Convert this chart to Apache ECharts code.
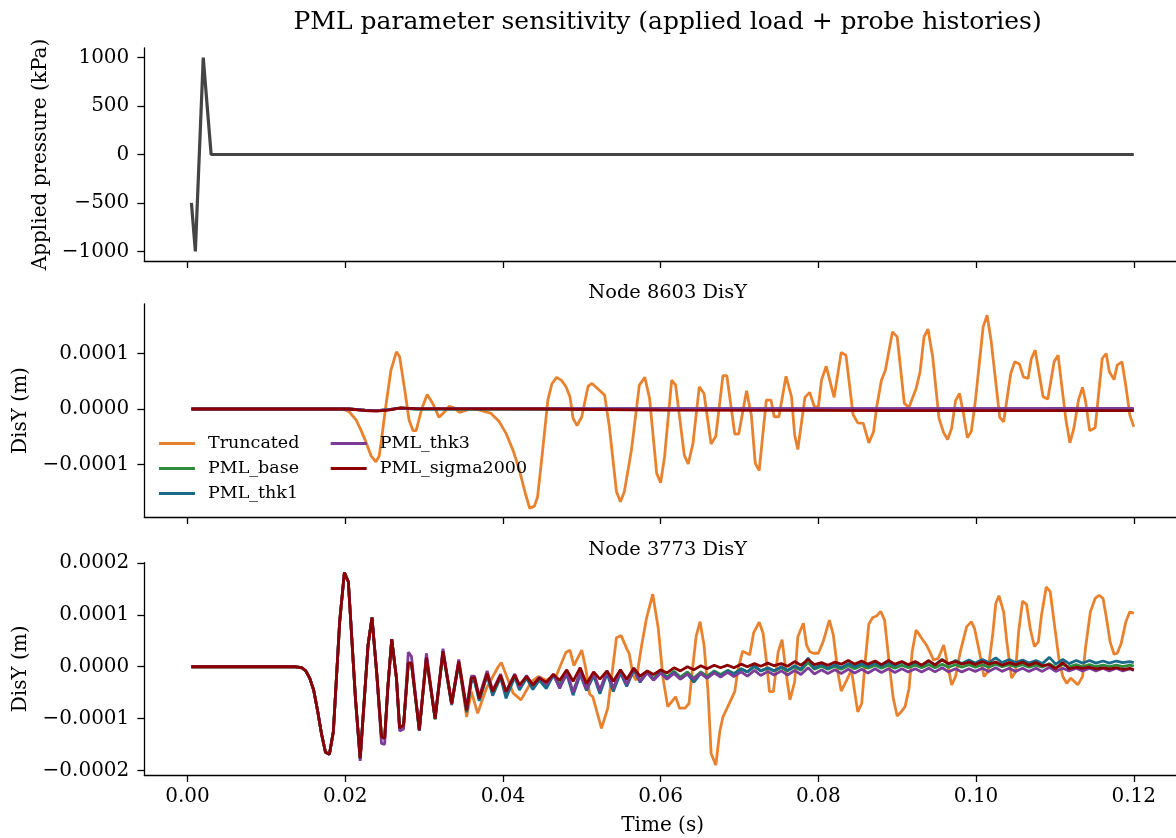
<!DOCTYPE html>
<html><head><meta charset="utf-8">
<script src="https://cdn.jsdelivr.net/npm/echarts@6/dist/echarts.min.js"></script>
<style>html,body{margin:0;padding:0;background:#fff}#chart{width:1176px;height:838px}</style>
</head><body><div id="chart"></div>
<script>
// ---- Tick values / labels (time in ms, displacement in micrometres) ----
const xTickValues = [0, 20, 40, 60, 80, 100, 120];
const xTickLabels = ['0.00', '0.02', '0.04', '0.06', '0.08', '0.10', '0.12'];
const presTickValues = [-1000, -500, 0, 500, 1000];
const presTickLabels = ['\u22121000', '\u2212500', '0', '500', '1000'];
const midTickValues = [-100, 0, 100];
const midTickLabels = ['\u22120.0001', '0.0000', '0.0001'];
const botTickValues = [-200, -100, 0, 100, 200];
const botTickLabels = ['\u22120.0002', '\u22120.0001', '0.0000', '0.0001', '0.0002'];

const seriesNames = ['Truncated', 'PML_base', 'PML_thk1', 'PML_thk3', 'PML_sigma2000'];

// ---- Applied load: [time ms, kPa] ----
const pressure = [[0.5, -500], [1.0, -1000], [2.0, 1000], [3.0, 0], [120, 0]];

// ---- Node 8603 DisY: [time ms, micrometres] ----
const truncMid = [[0.5,0],[19.7,0],[20.5,-5],[21.4,-20],[22.0,-38],[22.7,-62],[23.3,-85],[23.9,-95],[24.3,-85],[24.6,-56],[25.1,0],[25.8,70],[26.5,103],[26.9,94],[27.6,30],[28.1,-20],[28.6,-39],[29.0,-39],[29.7,0],[30.4,26],[31.1,10],[31.9,-15],[32.6,-5],[33.2,5],[33.8,2],[34.5,-6],[35.2,-3],[35.8,1],[37.1,-2],[38.5,-8],[39.5,-22],[40.4,-44],[41.3,-75],[42.1,-110],[42.8,-150],[43.4,-179],[44.0,-175],[44.4,-158],[45.0,-80],[45.7,16],[46.2,45],[46.8,57],[47.4,52],[48.0,40],[48.5,22],[48.9,-17],[49.4,-30],[50.0,-14],[50.8,41],[51.3,46],[52.0,37],[52.9,25],[53.5,-32],[54.4,-149],[54.9,-167],[55.4,-149],[56.3,-74],[57.3,43],[58.0,57],[58.6,19],[59.5,-116],[60.0,-133],[60.5,-86],[61.4,52],[61.9,43],[63.0,-83],[63.5,-99],[64.1,-62],[64.9,40],[65.5,28],[66.4,-63],[67.0,-49],[67.9,60],[68.4,60],[69.4,-45],[69.9,-45],[70.9,33],[71.5,-11],[72.0,-98],[72.5,-111],[73.4,16],[74.0,16],[74.4,-14],[75.0,-14],[75.9,59],[76.6,22],[77.0,-47],[77.4,-73],[78.3,21],[78.9,30],[79.5,4],[80.0,4],[80.4,52],[81.0,77],[82.0,21],[82.9,102],[83.5,97],[84.4,-10],[85.0,-25],[85.7,-26],[86.4,-61],[87.0,-41],[87.4,4],[88.0,52],[88.5,70],[89.4,139],[90.0,130],[90.9,10],[91.5,3],[92.4,37],[92.9,67],[93.4,130],[93.9,144],[94.5,94],[95.3,-17],[95.9,-43],[96.4,-55],[96.9,-35],[97.4,15],[97.9,28],[98.4,-8],[98.9,-52],[99.4,-40],[99.9,13],[100.9,148],[101.4,169],[101.9,124],[103.0,-15],[103.5,-23],[104.4,64],[104.9,85],[105.5,81],[106.0,58],[106.6,55],[107.0,90],[107.5,106],[108.5,22],[109.1,18],[109.9,85],[110.4,97],[111.4,-20],[111.9,-61],[112.4,-35],[113.0,17],[113.5,39],[113.9,13],[114.4,-39],[115.1,-34],[116.0,91],[116.5,100],[116.9,67],[117.5,53],[117.9,79],[118.5,85],[119.0,41],[119.5,-11],[120.0,-32]];
const baseMid = [[0.5,0],[20.5,0],[22.5,-2],[24.0,-3],[25.5,-1],[27.0,1.5],[29.0,0],[45.0,0],[120.0,-1]];
const thk1Mid = [[0.5,0],[20.5,0],[22.5,-2],[24.0,-3],[25.5,-1],[27.0,1.5],[29.0,0],[45.0,0],[120.0,-0.5]];
const thk3Mid = [[0.5,0],[20.5,0],[22.5,-2],[24.0,-3],[25.5,-1],[27.0,1.5],[29.0,0.5],[45.0,0.5],[120.0,1]];
const sigmaMid = [[0.5,0],[20.5,0],[22.5,-3],[24.0,-4],[25.5,-2],[27.0,2],[29.0,0.5],[45.0,0],[60.0,-2],[90.0,-3],[120.0,-3]];

// ---- Node 3773 DisY ----
const truncBot = [[0.5,0],[13.5,0],[14.5,-2],[15.0,-8],[15.5,-22],[16.0,-45],[16.5,-85],[17.0,-130],[17.5,-165],[18.0,-169],[18.5,-125],[19.3,87],[19.9,182],[20.4,164],[21.3,-61],[21.9,-177],[22.9,42],[23.4,95],[24.0,-13],[24.6,-135],[25.0,-138],[25.4,-42],[25.9,53],[26.5,-22],[26.9,-118],[27.4,-113],[28.0,7],[28.4,7],[29.4,-122],[30.3,18],[31.4,-100],[32.4,30],[33.5,-71],[34.4,10],[35.4,-97],[36.0,-48],[36.8,-90],[37.9,-42],[39.4,0],[39.8,8],[41.3,-51],[42.3,-64],[43.6,-29],[44.5,-19],[45.5,-26],[46.8,-16],[48.0,28],[48.5,32],[49.0,2],[50.0,32],[50.5,-3],[51.0,-53],[51.4,-58],[52.5,-119],[53.3,-80],[54.4,56],[55.0,60],[55.7,35],[56.0,26],[56.5,-16],[56.9,-26],[57.6,42],[58.2,93],[59.0,140],[59.7,74],[60.3,-22],[60.9,-77],[61.9,-58],[62.4,-80],[63.1,-80],[63.6,-71],[64.0,-10],[64.5,58],[65.0,87],[65.5,42],[66.0,-45],[66.4,-167],[67.0,-190],[67.5,-125],[67.9,-97],[68.8,-68],[69.4,-48],[69.8,-6],[70.4,30],[71.3,23],[71.8,66],[72.5,86],[73.0,64],[73.4,13],[73.8,-48],[74.3,-48],[74.9,28],[75.4,52],[76.0,-22],[76.4,-64],[77.0,-29],[77.4,58],[78.1,84],[78.5,42],[78.9,29],[79.4,26],[80.0,26],[80.6,48],[81.4,90],[81.9,61],[82.5,-13],[82.9,-47],[83.6,-26],[84.2,-6],[84.6,-48],[85.0,-87],[85.5,-71],[85.9,3],[86.4,82],[86.9,95],[87.4,98],[87.9,107],[88.4,90],[89.1,-10],[89.5,-61],[90.0,-95],[90.5,-87],[91.0,-77],[91.5,-42],[91.9,29],[92.4,71],[93.1,55],[93.7,42],[94.1,30],[94.6,13],[95.2,16],[95.9,42],[96.9,-35],[97.4,-19],[98.0,29],[98.8,77],[99.4,87],[99.8,74],[100.5,23],[101.0,-19],[101.5,-10],[102.1,61],[102.5,122],[102.9,137],[103.5,106],[103.9,48],[104.5,-22],[105.0,-10],[105.4,68],[105.9,127],[106.4,120],[106.9,71],[107.4,39],[107.9,48],[108.3,100],[108.9,154],[109.4,145],[110.0,74],[110.5,16],[111.0,-19],[111.5,-32],[112.0,-22],[112.5,-29],[112.9,-35],[113.5,-19],[113.9,39],[114.5,106],[115.1,132],[115.6,138],[116.1,132],[116.5,97],[117.0,48],[117.5,24],[117.9,26],[118.4,45],[119.0,87],[119.5,106],[120.0,103]];

// shared sample times (ms) of the four PML histories at node 3773
const tPmlBot = [
  0.5, 13.5, 14.5, 15.0, 15.5, 16.0, 16.5, 17.0, 17.5, 18.0,
  18.5, 19.3, 19.9, 20.4, 21.3, 21.9, 22.9, 23.4, 24.0, 24.6,
  25.0, 25.4, 25.9, 26.5, 26.9, 27.4, 28.0, 28.4, 29.4, 30.3,
  31.4, 32.4, 33.5, 34.4, 35.4, 36.0, 36.4, 37.0, 38.0, 38.7,
  39.7, 40.4, 41.5, 42.1, 43.0, 43.8, 44.6, 45.5, 46.4,
  47.2, 48.1, 48.9, 49.8, 50.6, 51.5, 52.3, 53.2, 54.0, 54.9,
  55.7, 56.6, 57.4, 58.3, 59.1, 60.0, 60.8, 61.7, 62.5, 63.4,
  64.2, 65.1, 65.9, 66.8, 67.6, 68.5, 69.3, 70.2, 71.0, 71.9,
  72.7, 73.6, 74.4, 75.3, 76.1, 77.0, 77.8, 78.7, 79.5, 80.4,
  81.2, 82.1, 82.9, 83.8, 84.6, 85.5, 86.3, 87.2, 88.0, 88.9,
  89.7, 90.6, 91.4, 92.3, 93.1, 94.0, 94.8, 95.7, 96.5, 97.4,
  98.2, 99.1, 99.9, 100.8, 101.6, 102.5, 103.3, 104.2, 105.0, 105.9,
  106.7, 107.6, 108.4, 109.3, 110.1, 111.0, 111.8, 112.7, 113.5, 114.4,
  115.2, 116.1, 116.9, 117.8, 118.6, 119.5, 120.0];
const baseBot = [
  0, 0, -2, -8, -22, -45, -85, -130, -165, -169,
  -125, 87, 182, 164, -61, -177, 42, 95, -13, -135,
  -138, -42, 53, -22, -118, -113, 7, 7, -124, 16,
  -102, 28, -73, 8, -86, -25, -25, -64, -15, -52,
  -18, -55, -18, -40, -20, -40, -24, -38, -15,
  -34, -12, -48, -12, -42, -14, -46, -10, -42, -10,
  -34, -5, -26, -9, -23, -9, -20, -9, -20, -10,
  -22, -10, -18, -8, -15, -7, -13, -4, -10, 0,
  -8, -3, -8, -2, -8, 0, -7, 8, -5, 1,
  -5, 1, -5, 2, -4, 2, -3, 3, -3, 3,
  -3, 3, -2, 3, -2, 4, -2, 5, -1, 4,
  -1, 4, -1, 4, -1, 5, 0, 4, 0, 4,
  -1, 3, -1, 6, -1, 4, 0, 4, 0, 4,
  0, 3, 0, 3, 0, 3, 1];
const thk1Bot = [
  0, 0, -2, -8, -22, -45, -85, -130, -165, -169,
  -125, 87, 182, 164, -61, -177, 42, 95, -13, -135,
  -138, -42, 53, -22, -118, -113, 7, 7, -122, 18,
  -100, 28, -74, 6, -88, -28, -28, -66, -16, -56,
  -20, -61, -20, -45, -22, -44, -26, -42, -16,
  -40, -14, -55, -15, -46, -17, -52, -13, -48, -12,
  -38, -6, -30, -10, -26, -10, -22, -11, -24, -14,
  -30, -13, -22, -10, -18, -8, -14, -4, -10, 2,
  -8, -2, -8, 0, -7, 2, -5, 17, -3, 5,
  -3, 4, -2, 6, 0, 6, 1, 7, 1, 8,
  2, 9, 3, 8, 3, 10, 4, 14, 5, 12,
  6, 13, 7, 14, 8, 17, 8, 14, 8, 13,
  7, 12, 6, 18, 5, 14, 6, 12, 7, 12,
  7, 11, 7, 11, 8, 10, 8];
const thk3Bot = [
  0, 0, -2, -8, -22, -45, -85, -130, -165, -169,
  -125, 87, 182, 164, -61, -182, 42, 95, -13, -148,
  -150, -42, 53, -22, -124, -120, 28, 20, -124, 26,
  -100, 35, -72, 14, -80, -18, -18, -58, -8, -46,
  -14, -48, -14, -38, -17, -36, -20, -34, -14,
  -42, -10, -50, -10, -44, -12, -46, -8, -42, -6,
  -34, -2, -28, -12, -26, -12, -24, -13, -24, -14,
  -24, -13, -22, -12, -20, -11, -19, -10, -18, -7,
  -17, -9, -16, -8, -16, -7, -15, -2, -14, -6,
  -13, -6, -13, -5, -12, -5, -12, -4, -11, -4,
  -11, -4, -10, -4, -10, -3, -10, -2, -10, -4,
  -10, -4, -9, -3, -9, -2, -9, -3, -9, -3,
  -9, -3, -9, -1, -9, -3, -8, -3, -8, -3,
  -8, -3, -8, -3, -8, -4, -7];
const sigmaBot = [
  0, 0, -2, -8, -22, -45, -85, -130, -165, -169,
  -125, 87, 182, 164, -61, -177, 42, 95, -13, -135,
  -138, -42, 53, -22, -118, -113, 7, 7, -122, 18,
  -100, 30, -71, 10, -84, -22, -21, -61, -13, -48,
  -17, -48, -16, -35, -19, -35, -22, -30, -15,
  -26, -6, -28, -2, -33, -10, -24, -8, -28, -6,
  -24, -3, -18, -8, -15, -6, -12, -2, -8, 0,
  -6, 2, -4, 3, -2, 3, -2, 5, 0, 6,
  1, 7, 2, 6, 1, 10, 3, 14, 4, 8,
  3, 9, 5, 12, 5, 11, 5, 11, 4, 12,
  5, 10, 4, 10, 3, 12, 3, 13, 6, 10,
  5, 9, 4, 10, 5, 9, 3, 8, 4, 9,
  3, 8, 2, 4, -4, 8, -4, -1, -3, -1,
  -4, -2, -4, -2, -5, -3, -6];

const colors = { Truncated: '#e8822e', PML_base: '#2e8b3e', PML_thk1: '#1a6a8a', PML_thk3: '#7d3c98', PML_sigma2000: '#8b0000' };

// ---- build ----
const FONT = 'DejaVu Serif';
const TICK_FS = 20;
const X_MIN = -5.475, X_MAX = 125.975;
const GL = 144.3, GW = 1036.6;
const grids = [
  { left: GL, width: GW, top: 48, height: 213 },
  { left: GL, width: GW, top: 304, height: 213 },
  { left: GL, width: GW, top: 562.7, height: 212.3 }
];
const yRanges = [[-1100, 1100], [-194.6, 189.2], [-209, 200.8]];
const yTicks = [[presTickValues, presTickLabels], [midTickValues, midTickLabels], [botTickValues, botTickLabels]];
const yNames = ['Applied pressure (kPa)', 'DisY (m)', 'DisY (m)'];
const yNameGaps = [93, 114, 114];

function lookup(vals, labels) {
  return function (v) {
    for (let i = 0; i < vals.length; i++) if (Math.abs(vals[i] - v) < 1e-6) return labels[i];
    return '';
  };
}
const lineCol = '#000';
const xAxes = grids.map((g, i) => ({
  type: 'value', gridIndex: i, min: X_MIN, max: X_MAX,
  axisLine: { show: true, onZero: false, lineStyle: { color: lineCol, width: 1.3 } },
  axisTick: { show: true, length: 7, customValues: xTickValues, lineStyle: { color: lineCol, width: 1.3 } },
  axisLabel: { show: i === 2, customValues: xTickValues, formatter: lookup(xTickValues, xTickLabels),
    fontFamily: FONT, fontSize: TICK_FS, color: '#000', margin: 12 },
  splitLine: { show: false },
  name: i === 2 ? 'Time (s)' : '', nameLocation: 'middle', nameGap: 41,
  nameTextStyle: { fontFamily: FONT, fontSize: TICK_FS, color: '#000' }
}));
const yAxes = grids.map((g, i) => ({
  type: 'value', gridIndex: i, min: yRanges[i][0], max: yRanges[i][1],
  axisLine: { show: true, onZero: false, lineStyle: { color: lineCol, width: 1.3 } },
  axisTick: { show: true, length: 7, customValues: yTicks[i][0], lineStyle: { color: lineCol, width: 1.3 } },
  axisLabel: { show: true, customValues: yTicks[i][0], formatter: lookup(yTicks[i][0], yTicks[i][1]),
    fontFamily: FONT, fontSize: TICK_FS, color: '#000', margin: 15 },
  splitLine: { show: false },
  name: yNames[i], nameLocation: 'middle', nameRotate: 90, nameGap: yNameGaps[i],
  nameTextStyle: { fontFamily: FONT, fontSize: TICK_FS, color: '#000' }
}));

function mk(name, data, gi, width) {
  return { name: name, type: 'line', xAxisIndex: gi, yAxisIndex: gi, data: data,
    showSymbol: false, symbol: 'none', color: colors[name] || '#444',
    lineStyle: { width: width || 2.8, color: colors[name] || '#444' }, silent: true };
}
function zipT(ts, vs) { return ts.map((t, i) => [t, vs[i]]); }

const series = [
  mk('Applied load', pressure, 0, 3.2),
  mk('Truncated', truncMid, 1), mk('PML_base', baseMid, 1), mk('PML_thk1', thk1Mid, 1),
  mk('PML_thk3', thk3Mid, 1), mk('PML_sigma2000', sigmaMid, 1),
  mk('Truncated', truncBot, 2), mk('PML_base', zipT(tPmlBot, baseBot), 2), mk('PML_thk1', zipT(tPmlBot, thk1Bot), 2),
  mk('PML_thk3', zipT(tPmlBot, thk3Bot), 2), mk('PML_sigma2000', zipT(tPmlBot, sigmaBot), 2)
];
series[0].color = '#444444'; series[0].lineStyle.color = '#444444';

const legendCommon = {
  orient: 'vertical', itemWidth: 36, itemHeight: 3, itemGap: 0, icon: 'rect', padding: 0,
  selectedMode: false,
  textStyle: { fontFamily: FONT, fontSize: 17.5, color: '#000', lineHeight: 25, padding: [0, 0, 0, 8] }
};
const chart = echarts.init(document.getElementById('chart'), null, { renderer: 'canvas' });
chart.setOption({
  animation: false,
  backgroundColor: '#fff',
  title: [
    { text: 'PML parameter sensitivity (applied load + probe histories)', left: 662.6, top: 5, textAlign: 'center',
      textStyle: { fontFamily: FONT, fontSize: 25, fontWeight: 'normal', color: '#000' } },
    { text: 'Node 8603 DisY', left: 662.6, top: 278, textAlign: 'center',
      textStyle: { fontFamily: FONT, fontSize: 19.4, fontWeight: 'normal', color: '#000' } },
    { text: 'Node 3773 DisY', left: 662.6, top: 535, textAlign: 'center',
      textStyle: { fontFamily: FONT, fontSize: 19.4, fontWeight: 'normal', color: '#000' } }
  ],
  legend: [
    Object.assign({}, legendCommon, { data: ['Truncated', 'PML_base', 'PML_thk1'], left: 159, top: 431 }),
    Object.assign({}, legendCommon, { data: ['PML_thk3', 'PML_sigma2000'], left: 330.7, top: 431 })
  ],
  grid: grids.map(g => Object.assign({ containLabel: false, outerBoundsMode: 'none' }, g)),
  xAxis: xAxes,
  yAxis: yAxes,
  series: series
});
</script></body></html>
